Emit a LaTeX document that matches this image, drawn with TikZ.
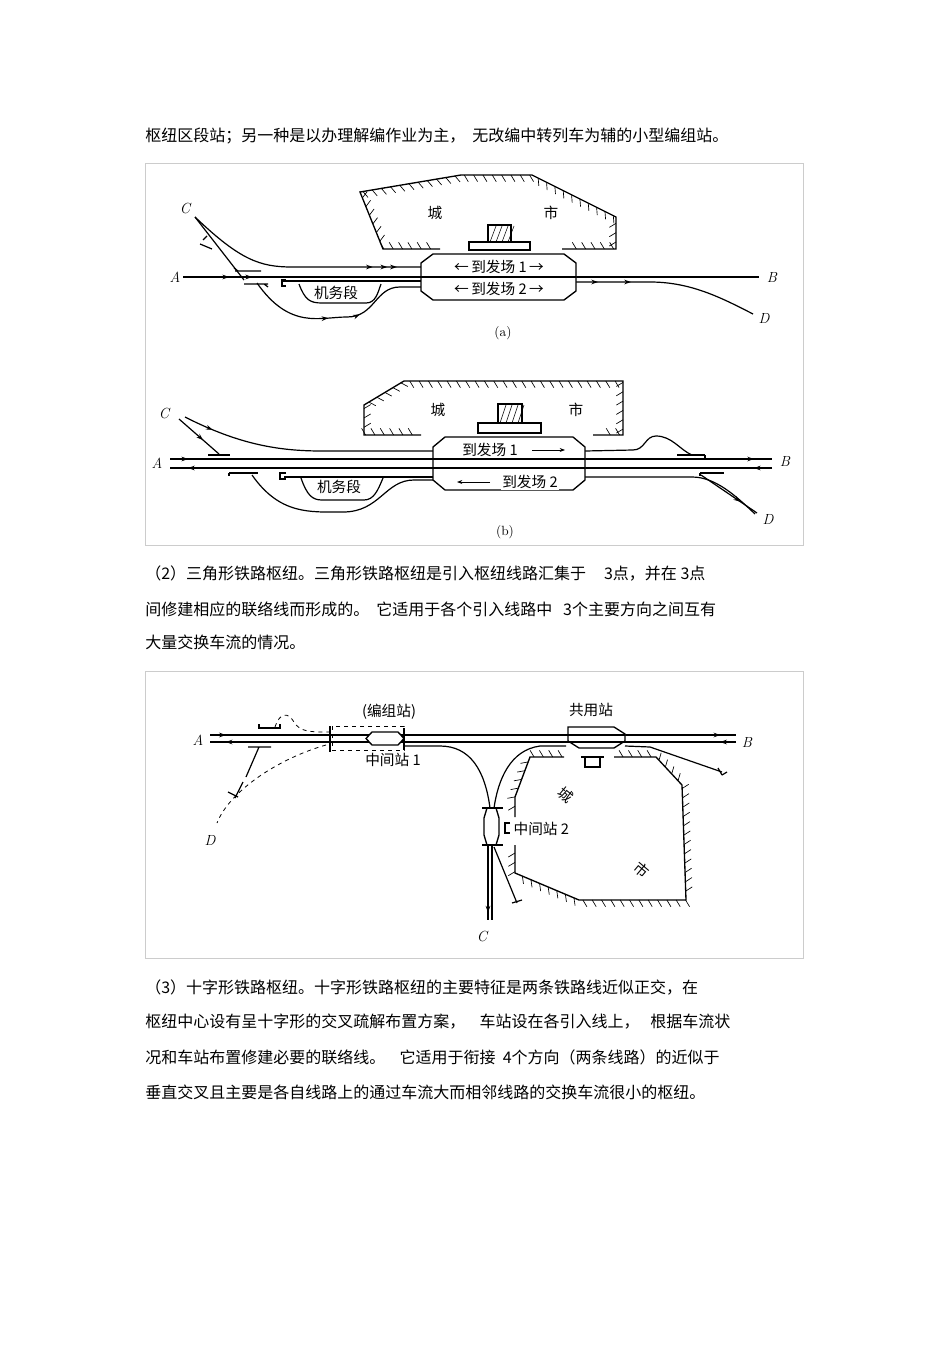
\documentclass[tikz,border=0pt]{standalone}
\usepackage{fontspec}
\newfontfamily\cjk{Noto Sans CJK SC}
\usetikzlibrary{decorations.markings,arrows.meta}
\tikzset{
 trk/.style={line width=0.9pt},
 hatch/.style={line width=1pt,postaction={decorate,decoration={markings,mark=between positions 0.02 and 0.98 step 7pt with {\draw[line width=0.5pt] (0pt,0pt)--(3pt,-5pt);}}}},
 frm/.style={draw=black!20,line width=0.6pt},
 para/.style={anchor=west,font=\cjk\fontsize{12}{14}\selectfont,inner sep=0pt},
 lbl/.style={font=\cjk\fontsize{11}{13}\selectfont,inner sep=1pt},
 let/.style={font=\itshape\fontsize{11}{13}\selectfont,inner sep=0pt},
 stn/.style={line width=1pt,fill=white},
 ar/.style={postaction={decorate,decoration={markings,mark=at position #1 with {\arrow{Stealth[length=5pt,width=3.5pt]}}}}},
 la/.style={-{Stealth[length=4pt,width=3pt]},line width=0.6pt},
}
\begin{document}
\begin{tikzpicture}[x=0.75pt,y=-0.75pt]
\useasboundingbox[fill=white] (0,0) rectangle (950,1345);
% paragraphs
\node[para] (p1) at (145,136) {枢纽区段站；另一种是以办理解编作业为主，\ \ 无改编中转列车为辅的小型编组站。};
\node[para] (p2) at (145,574) {（2）三角形铁路枢纽。三角形铁路枢纽是引入枢纽线路汇集于\ \ \ \ \ 3点，并在 3点};
\node[para] (p3) at (145,609) {间修建相应的联络线而形成的。\ \ 它适用于各个引入线路中\ \ \ 3个主要方向之间互有};
\node[para] (p4) at (145,642) {大量交换车流的情况。};
\node[para] (p5) at (145,987) {（3）十字形铁路枢纽。十字形铁路枢纽的主要特征是两条铁路线近似正交，在};
\node[para] (p6) at (145,1022) {枢纽中心设有呈十字形的交叉疏解布置方案，\ \ \ \ 车站设在各引入线上，\ \ \ 根据车流状};
\node[para] (p7) at (145,1057) {况和车站布置修建必要的联络线。\ \ \ \ 它适用于衔接\ \ 4个方向（两条线路）的近似于};
\node[para] (p8) at (145,1092) {垂直交叉且主要是各自线路上的通过车流大而相邻线路的交换车流很小的枢纽。};
% frames
\draw[frm] (145,163) rectangle (803,545);
\draw[frm] (145,671) rectangle (803,958);

% ================= (a)
\draw[hatch] (440,249)--(383,249)--(360,192)--(461,175)--(532,175)--(616,217)--(616,249)--(562,249);
\draw[line width=1pt] (469,250) rectangle (530,242);
\draw[line width=1pt] (488,242) rectangle (511,225);
\foreach \i in {0,...,3}{\draw[line width=0.4pt] (490+\i*6,242)--(496+\i*6,226);}
\node[lbl] (ca) at (435,213) {城};
\node[lbl] (sa) at (551,213) {市};
% tracks
\draw[trk,ar=0.08,ar=0.12] (183,277)--(759,277);
\draw[trk] (282,281)--(421,281);
\draw[trk,ar=0.8,ar=0.86,ar=0.9] (195,217) .. controls (240,260) and (260,267) .. (292,267) -- (421,267);
\draw[trk] (195,217)--(244,280);
\draw[trk,ar=0.45,ar=0.62] (257,283) .. controls (290,330) and (320,317) .. (347,317) .. controls (375,317) and (375,287) .. (400,287) -- (421,287);
\draw[trk] (299,284) .. controls (305,300) and (310,303) .. (322,303) -- (366,303) .. controls (376,303) and (378,292) .. (381,284);
\draw[trk] (286,280)--(282,280)--(282,286)--(286,286);
\draw[trk] (235,271)--(261,271) (238,271)--(234,268);
\draw[trk] (244,284)--(268,284) (264,284)--(268,287);
\draw[trk] (203,240)--(207,236) (200,244)--(212,249);
\draw[trk,ar=0.12,ar=0.3] (576,282)--(650,282) .. controls (690,282) and (720,297) .. (753,314);
\draw[stn] (433,254)--(564,254)--(576,263)--(576,291)--(564,300)--(433,300)--(421,291)--(421,263)--cycle;
\draw[trk] (421,277)--(576,277);
\node[lbl,fill=white] (a1) at (499,267) {←\,到发场 1\,→};
\node[lbl,fill=white] (a2) at (499,289) {←\,到发场 2\,→};
\node[lbl] (jwa) at (336,293) {机务段};
\node[let] (Aa) at (175,277) {A};
\node[let] (Ba) at (772,277) {B};
\node[let] (Ca) at (185,208) {C};
\node[let] (Da) at (764,318) {D};
\node[font=\fontsize{10}{12}\selectfont] (capa) at (503,333) {(a)};

% ================= (b)
\draw[hatch] (421,435)--(364,435)--(364,405)--(404,381)--(623,381)--(623,435)--(593,435);
\draw[line width=1pt] (478,433) rectangle (541,423);
\draw[line width=1pt] (498,423) rectangle (522,404);
\foreach \i in {0,...,3}{\draw[line width=0.4pt] (500+\i*6,423)--(506+\i*6,405);}
\node[lbl] (cb) at (438,410) {城};
\node[lbl] (sb) at (576,410) {市};
\draw[trk,ar=0.03,ar=0.97] (170,459)--(772,459);
\draw[trk,ar=0.03,ar=0.97] (772,468)--(170,468);
\draw[trk,ar=0.12] (185,417) .. controls (240,445) and (280,451) .. (322,451) -- (433,451);
\draw[trk] (585,451)--(633,450) .. controls (645,450) and (645,436) .. (656,436) .. controls (672,436) and (680,450) .. (692,455);
\draw[trk] (677,455)--(705,455) (705,455)--(705,458);
\draw[trk,ar=0.6] (179,419)--(219,454);
\draw[trk] (208,455)--(230,455);
\draw[trk] (284,477)--(433,477);
\draw[trk] (252,475) .. controls (280,515) and (310,512) .. (343,512) .. controls (380,512) and (385,480) .. (414,480) -- (433,480);
\draw[trk] (229,473)--(258,473) (229,473)--(229,476);
\draw[trk] (301,478) .. controls (307,495) and (312,500) .. (322,500) -- (364,500) .. controls (374,500) and (378,490) .. (383,478);
\draw[trk] (286,473)--(280,473)--(280,479)--(286,479);
\draw[trk] (585,477)--(692,477) .. controls (715,477) and (735,495) .. (755,514);
\draw[trk,ar=0.7] (701,475)--(757,513);
\draw[trk] (700,473)--(724,473) (700,473)--(700,476);
\draw[stn] (445,437)--(573,437)--(585,447)--(585,480)--(573,490)--(445,490)--(433,480)--(433,447)--cycle;
\draw[trk] (433,459)--(585,459) (433,468)--(585,468);
\node[lbl,fill=white] (b1) at (490,450) {到发场 1};
\coordinate (b1s) at (532,450); \coordinate (b1e) at (565,450);
\draw[la] (b1s)--(b1e);
\node[lbl,fill=white] (b2) at (530,482) {到发场 2};
\coordinate (b2s) at (490,482); \coordinate (b2e) at (457,482);
\draw[la] (b2s)--(b2e);
\node[lbl] (jwb) at (339,487) {机务段};
\node[let] (Ab) at (157,463) {A};
\node[let] (Bb) at (785,461) {B};
\node[let] (Cb) at (164,413) {C};
\node[let] (Db) at (768,519) {D};
\node[font=\fontsize{10}{12}\selectfont] (capb) at (505,532) {(b)};

% ================= figure 3
\draw[hatch] (564,757)--(530,757)--(515,797)--(515,817);
\draw[hatch] (515,845)--(515,873)--(579,900)--(686,900)--(682,785)--(656,757)--(614,757);
\draw[line width=1pt] (585,757)--(585,767)--(600,767)--(600,757);
\draw[line width=1pt] (581,757)--(604,757);
\node[lbl,rotate=-40] (c3) at (566,795) {城};
\node[lbl,rotate=-40] (s3) at (642,870) {市};
\draw[trk,ar=0.03,ar=0.97] (210,735)--(736,735);
\draw[trk,ar=0.03,ar=0.97] (736,742)--(210,742);
\draw[dashed,line width=0.6pt] (332,726) rectangle (404,750);
\draw[line width=0.8pt] (330,726)--(330,752);
\draw[line width=0.8pt] (404,728)--(404,750);
\draw[stn] (372,732)--(398,732)--(404,738.5)--(398,745)--(372,745)--(366,738.5)--cycle;
\node[lbl] (bz) at (389,712) {(编组站)};
\node[lbl] (z1) at (393,760) {中间站 1};
\draw[dashed,line width=0.6pt] (275,727) .. controls (280,712) and (288,712) .. (294,722) .. controls (300,732) and (310,732) .. (330,732);
\draw[dashed,line width=0.6pt] (326,745) .. controls (280,758) and (230,790) .. (217,823);
\draw[trk] (259,724)--(259,728)--(280,728)--(280,724);
\draw[trk] (248,747)--(271,747) (259,747)--(246,777);
\draw[trk] (243,782)--(235,798) (228,792)--(238,797);
\draw[trk] (404,746)--(440,746) .. controls (470,746) and (485,770) .. (490,808);
\draw[trk] (566,746)--(540,746) .. controls (510,750) and (498,780) .. (494,808);
\draw[trk] (625,746)--(650,747)--(722,772);
\draw[trk] (718,768)--(722,775) (722,775)--(727,772);
\draw[stn] (568,727) -- (614,727)--(625,734)--(625,741)--(614,748)--(579,748)--(568,741)--(568,734)--cycle;
\draw[trk] (568,735)--(625,735) (568,742)--(625,742);
\node[lbl] (gy) at (591,710) {共用站};
\draw[stn] (487,808)--(496,808)--(499,818)--(499,835)--(496,845)--(487,845)--(484,835)--(484,818)--cycle;
\draw[trk] (482,808)--(503,808) (482,845)--(503,845);
\draw[trk] (510,823)--(505,823)--(505,833)--(510,833);
\node[lbl,anchor=west] (z2) at (512,829) {中间站 2};
\draw[trk,ar=0.9] (488,845)--(488,920);
\draw[trk] (492,845)--(492,920);
\draw[trk] (494,847)--(517,903) (512,903)--(522,900) ;
\node[let] (A3) at (198,740) {A};
\node[let] (B3) at (747,742) {B};
\node[let] (C3) at (482,936) {C};
\node[let] (D3) at (210,840) {D};
\end{tikzpicture}
\end{document}
